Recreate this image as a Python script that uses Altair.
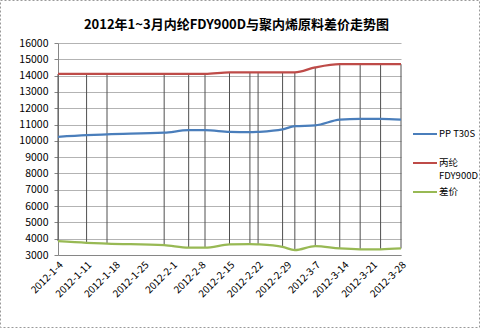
import altair as alt
import pandas as pd

title = "2012年1~3月内纶FDY900D与聚内烯原料差价走势图"
dates = ["2012-01-04", "2012-01-11", "2012-01-16", "2012-01-30", "2012-02-05",
         "2012-02-09", "2012-02-15", "2012-02-20", "2012-02-22", "2012-02-28",
         "2012-03-02", "2012-03-07", "2012-03-13", "2012-03-18", "2012-03-23",
         "2012-03-28"]
pp_t30s = [10250, 10350, 10400, 10500, 10650, 10650, 10550, 10530, 10550, 10700,
           10900, 10950, 11300, 11350, 11350, 11300]
fdy900d = [14100, 14100, 14100, 14100, 14100, 14100, 14200, 14200, 14200, 14200,
           14200, 14500, 14700, 14700, 14700, 14700]
spread = [3850, 3750, 3700, 3600, 3450, 3450, 3650, 3670, 3650, 3500,
          3300, 3550, 3400, 3350, 3350, 3400]
series_names = ["PP T30S", "丙纶 FDY900D", "差价"]
legend_labels = ["PP T30S", "丙纶\nFDY900D", "差价"]
series_colors = ["#4A7EBB", "#BE4B48", "#98B954"]
tick_dates = ["2012-01-04", "2012-01-11", "2012-01-18", "2012-01-25", "2012-02-01",
              "2012-02-08", "2012-02-15", "2012-02-22", "2012-02-29", "2012-03-07",
              "2012-03-14", "2012-03-21", "2012-03-28"]
y_ticks = list(range(3000, 16001, 1000))

FONT = "Noto Sans CJK SC"

wide = pd.DataFrame({"date": dates, "pp": pp_t30s, "fdy": fdy900d, "spread": spread})
long_rows = []
for name, vals in zip(series_names, [pp_t30s, fdy900d, spread]):
    for d, v in zip(dates, vals):
        long_rows.append({"date": d, "series": name, "value": v})
long = pd.DataFrame(long_rows)
legend_df = pd.DataFrame({"series": series_names, "label": legend_labels})


def dt(s):
    y, m, d = [int(p) for p in s.split("-")]
    return alt.DateTime(year=y, month=m, date=d)


color_scale = alt.Scale(domain=series_names, range=series_colors)
x_scale = alt.Scale(domain=[dt(dates[0]), dt(dates[-1])], nice=False)
y_scale = alt.Scale(domain=[3000, 16000], nice=False, zero=False)

x_enc = alt.X("date:T", scale=x_scale,
              axis=alt.Axis(values=[dt(s) for s in tick_dates], format="%Y-%-m-%-d",
                            labelAngle=-45, labelAlign="right", labelBaseline="middle",
                            labelPadding=8, labelOffset=3, ticks=False, grid=False,
                            title=None, labelOverlap=False, labelBound=False,
                            domainColor="#868686", labelFontSize=10,
                            labelColor="#000000", labelFont=FONT))
y_axis = alt.Axis(values=y_ticks, format="d", title=None, grid=True, gridColor="#B3B3B3",
                  domainColor="#868686", tickColor="#868686", tickSize=4,
                  labelPadding=6, labelFontSize=10.5, labelColor="#000000",
                  labelFont=FONT)

rules = alt.Chart(wide).mark_rule(color="#505050", strokeWidth=1).encode(
    x=x_enc,
    y=alt.Y("spread:Q", scale=y_scale, axis=y_axis),
    y2="fdy:Q",
)

lines = alt.Chart(long).mark_line(strokeWidth=2.25, interpolate="monotone").encode(
    x=x_enc,
    y=alt.Y("value:Q", scale=y_scale, axis=None),
    color=alt.Color("series:N", scale=color_scale, legend=None),
)

legend_y = alt.Y("series:N", scale=alt.Scale(domain=series_names, range=[91, 149],
                                               type="point", padding=0), axis=None)
legend_sym = alt.Chart(legend_df).mark_rule(strokeWidth=2).encode(
    x=alt.value(355), x2=alt.value(379), y=legend_y,
    color=alt.Color("series:N", scale=color_scale, legend=None),
)
legend_txt = alt.Chart(legend_df).mark_text(
    align="left", baseline="middle", lineBreak="\n", lineHeight=12.5,
    font=FONT, fontSize=9.5, color="#000000"
).encode(x=alt.value(381), y=legend_y, text="label:N")

border = alt.Chart(pd.DataFrame({"a": [0]})).mark_rect(
    fill=None, stroke="#9A9A9A", strokeWidth=1, strokeDash=[2, 2]
).encode(x=alt.value(-57.5), x2=alt.value(421.5), y=alt.value(-42.5), y2=alt.value(284.5))

chart = alt.layer(rules, lines, legend_sym, legend_txt, border).resolve_scale(
    y="independent"
).properties(
    width=343, height=212,
    autosize=alt.AutoSizeParams(type="none"),
    padding={"left": 58, "top": 43, "right": 79, "bottom": 73},
    background="#FFFFFF",
    title=alt.TitleParams(title, font=FONT, fontSize=13, fontWeight="bold",
                          color="#000000", anchor="middle", dx=7, offset=-32),
).configure_view(stroke=None)

chart.save("out.html", embed_options={"renderer": "svg", "actions": False})
